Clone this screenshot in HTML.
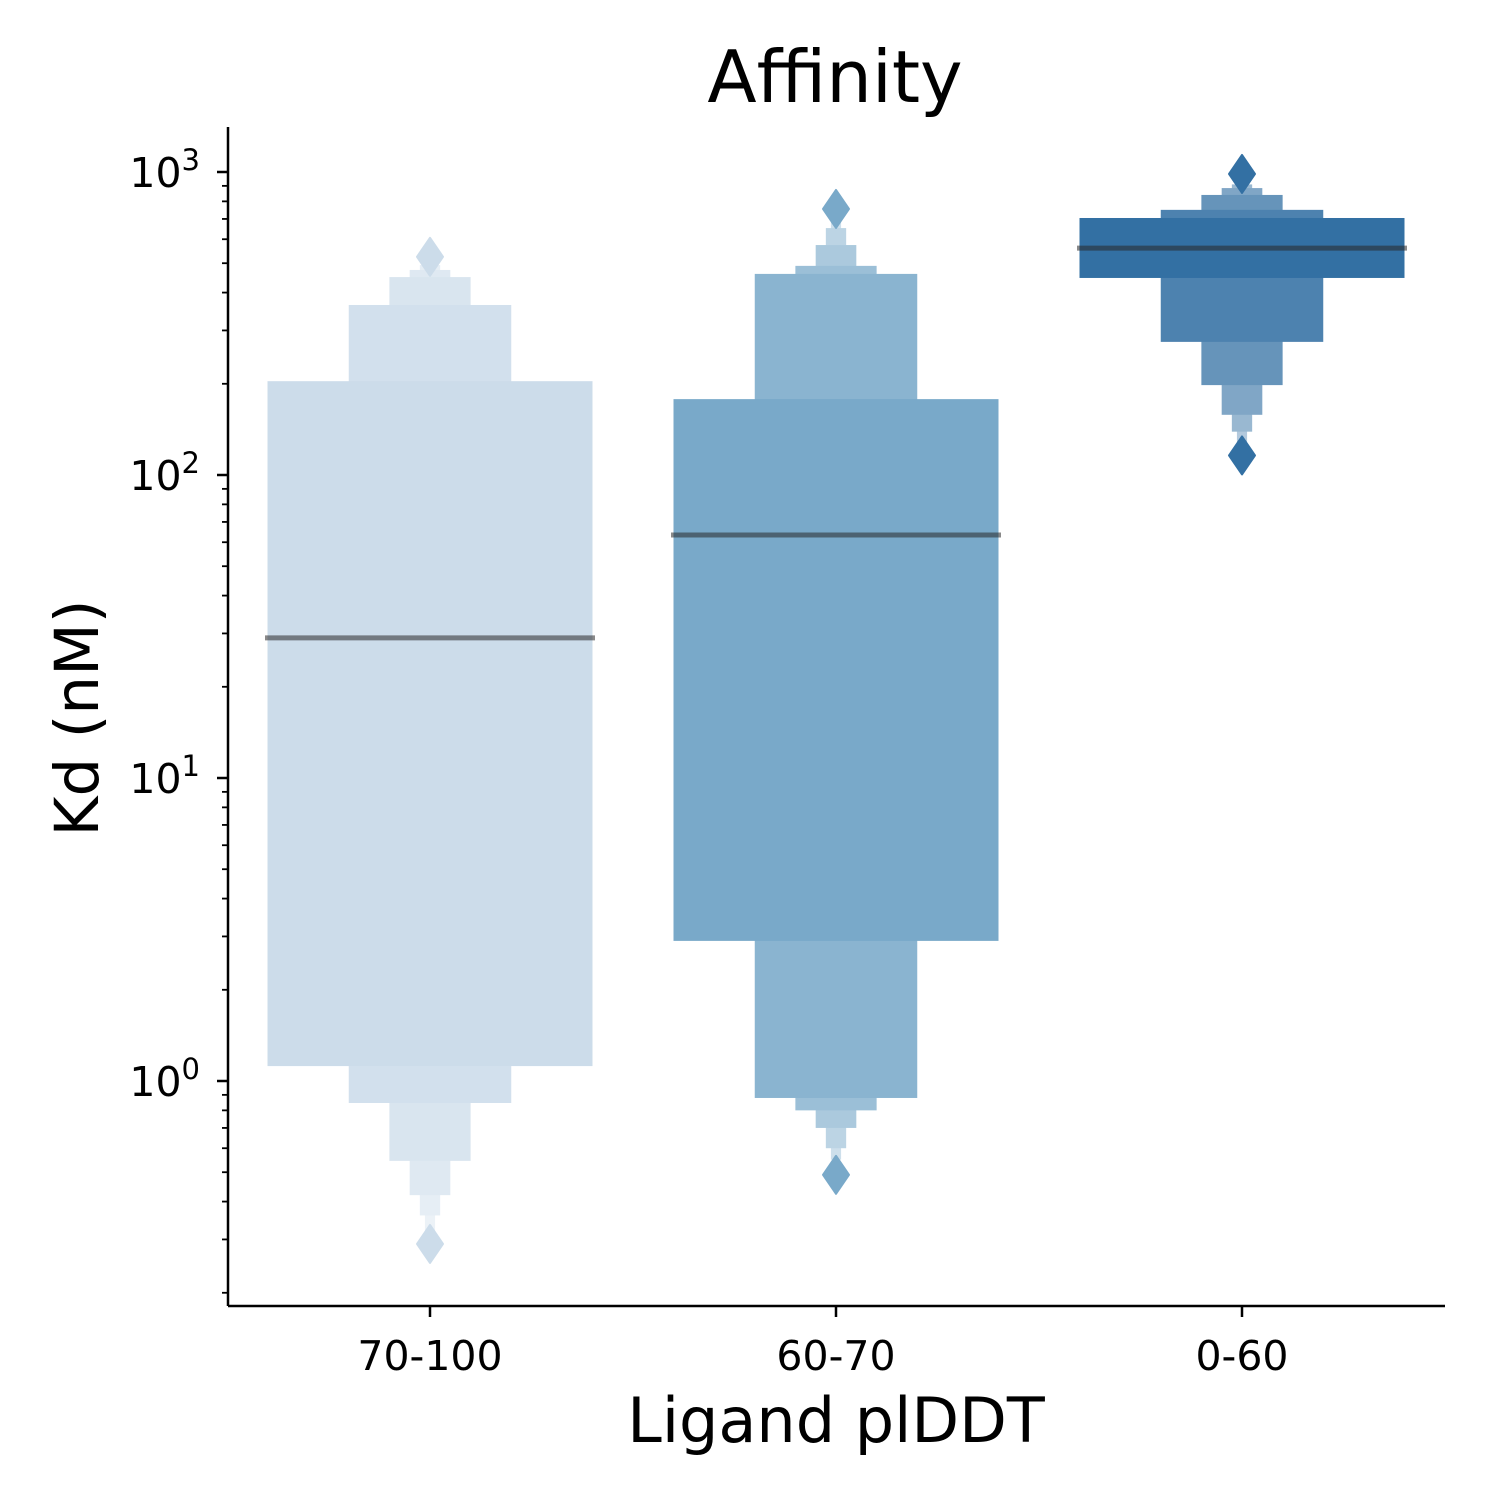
<!DOCTYPE html>
<html><head><meta charset="utf-8"><style>
html,body{margin:0;padding:0;background:#fff;}
svg text{font-family:"DejaVu Sans","Liberation Sans",sans-serif;}
</style></head><body>
<svg id="chart" width="1500" height="1500" xmlns="http://www.w3.org/2000/svg">
<text x="835" y="102" font-size="72" text-anchor="middle">Affinity</text>
<text x="836" y="1442" font-size="62" text-anchor="middle">Ligand plDDT</text>
<text transform="translate(98,718) rotate(-90)" font-size="61" text-anchor="middle">Kd (nM)</text>
<g id="marks"></g>
<g id="axes"></g>
</svg>
<script>
const categories = ["70-100", "60-70", "0-60"];
const baseColors = ["#ccdcea", "#79a9c9", "#3370a3"];
const levelHigh = [
  [204, 364, 450, 475, 493, 505],
  [178, 461, 490, 574, 653, 721],
  [705, 750, 840, 885, 910, 927]
];
const levelLow = [
  [1.12, 0.846, 0.545, 0.42, 0.36, 0.32],
  [2.9, 0.879, 0.80, 0.70, 0.60, 0.55],
  [447, 275, 198, 158, 139, 128]
];
const medians = [29, 63.4, 561];
const outlierHigh = [525, 755, 985];
const outlierLow = [0.29, 0.49, 116];
const yTickValues = [1, 10, 100, 1000];
const yTickExps = ["0", "1", "2", "3"];

const NS = "http://www.w3.org/2000/svg";
const X0 = 228, X1 = 1445, Y0 = 127, Y1 = 1306;
function yScale(v){ return 1081 - 303 * Math.log10(v); }
function xScale(i){ return 430 + 406 * i; }
function mix(hex, f){
  const n = parseInt(hex.slice(1), 16);
  const c = [(n>>16)&255, (n>>8)&255, n&255].map(v => Math.round(v + (255 - v) * f));
  return "rgb(" + c.join(",") + ")";
}
function mk(tag, attrs, parent){
  const e = document.createElementNS(NS, tag);
  for (const k in attrs) e.setAttribute(k, attrs[k]);
  parent.appendChild(e);
  return e;
}
const marks = document.getElementById("marks");
const axes = document.getElementById("axes");

categories.forEach((cat, g) => {
  const cx = xScale(g);
  const grp = mk("g", {}, marks);
  
  
  for (let i = levelHigh[g].length - 1; i >= 0; i--) {
    const w = 325 / Math.pow(2, i);
    const yt = yScale(levelHigh[g][i]), yb = yScale(levelLow[g][i]);
    const r = mk("rect", {x: cx - w/2, y: yt, width: w, height: yb - yt, fill: mix(baseColors[g], i * 0.125)}, grp);
    
    
  }
  const ym = yScale(medians[g]);
  const med = mk("line", {x1: cx - 165, x2: cx + 165, y1: ym, y2: ym, stroke: "rgba(40,40,40,0.55)", "stroke-width": 5}, grp);
  
  
  [outlierHigh[g], outlierLow[g]].forEach((v, k) => {
    const y = yScale(v);
    const d = mk("polygon", {points: `${cx},${y-19} ${cx+13},${y} ${cx},${y+19} ${cx-13},${y}`, fill: baseColors[g], stroke: baseColors[g], "stroke-width": 2, "stroke-linejoin": "round"}, grp);
    
    
  });
});

const sp1 = mk("line", {x1: X0, x2: X0, y1: Y0, y2: Y1, stroke: "#000", "stroke-width": 2.5}, axes);


const sp2 = mk("line", {x1: X0, x2: X1, y1: Y1, y2: Y1, stroke: "#000", "stroke-width": 2.5}, axes);



categories.forEach((cat, g) => {
  const x = xScale(g);
  mk("line", {x1: x, x2: x, y1: Y1, y2: Y1 + 11, stroke: "#000", "stroke-width": 2.5}, axes);
  const t = mk("text", {x: x, y: Y1 + 64, "font-size": 41, "text-anchor": "middle"}, axes);
  t.textContent = cat;
  
  
});

yTickValues.forEach((v, i) => {
  const y = yScale(v);
  mk("line", {x1: X0 - 11, x2: X0, y1: y, y2: y, stroke: "#000", "stroke-width": 2.5}, axes);
  const t = mk("text", {x: 200, y: y + 15, "font-size": 41, "text-anchor": "end"}, axes);
  
  
  const a = document.createElementNS(NS, "tspan"); a.textContent = "10"; t.appendChild(a);
  const b = document.createElementNS(NS, "tspan"); b.setAttribute("dy", "-17"); b.setAttribute("font-size", "29"); b.textContent = yTickExps[i]; t.appendChild(b);
});
for (let d = -1; d <= 3; d++) {
  for (let m = 2; m <= 9; m++) {
    const v = m * Math.pow(10, d);
    const y = yScale(v);
    if (y < Y0 || y > Y1) continue;
    mk("line", {x1: X0 - 6, x2: X0, y1: y, y2: y, stroke: "#000", "stroke-width": 1.8}, axes);
  }
}
</script>
</body></html>
